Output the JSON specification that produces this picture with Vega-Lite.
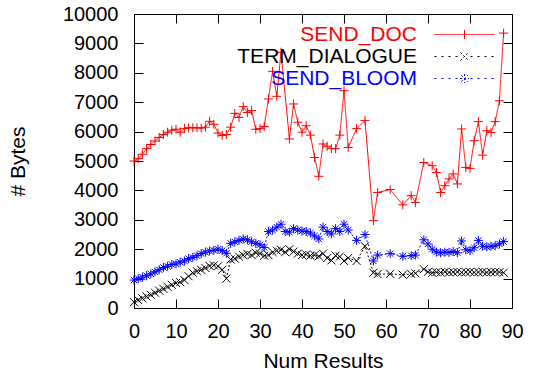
{
  "$schema": "https://vega.github.io/schema/vega-lite/v6.json",
  "width": 378,
  "height": 294,
  "autosize": "none",
  "padding": {"left": 134, "top": 14, "right": 22, "bottom": 69},
  "config": {
    "font": "Liberation Sans",
    "view": {"stroke": "black", "strokeWidth": 1},
    "axis": {
      "grid": false,
      "domainColor": "black",
      "tickColor": "black",
      "labelColor": "black",
      "titleColor": "black",
      "labelFontSize": 20,
      "titleFontSize": 21,
      "titleFontWeight": "normal",
      "tickSize": -9,
      "domainWidth": 1,
      "tickWidth": 1,
      "labelFlush": false
    }
  },
  "data": {
    "values": [
      {"x": 0, "y": 5000, "s": "SEND_DOC"},
      {"x": 1, "y": 5080, "s": "SEND_DOC"},
      {"x": 2, "y": 5230, "s": "SEND_DOC"},
      {"x": 3, "y": 5420, "s": "SEND_DOC"},
      {"x": 4, "y": 5560, "s": "SEND_DOC"},
      {"x": 5, "y": 5680, "s": "SEND_DOC"},
      {"x": 6, "y": 5800, "s": "SEND_DOC"},
      {"x": 7, "y": 5900, "s": "SEND_DOC"},
      {"x": 8, "y": 5980, "s": "SEND_DOC"},
      {"x": 9, "y": 6050, "s": "SEND_DOC"},
      {"x": 10, "y": 6080, "s": "SEND_DOC"},
      {"x": 11, "y": 5980, "s": "SEND_DOC"},
      {"x": 12, "y": 6110, "s": "SEND_DOC"},
      {"x": 13, "y": 6130, "s": "SEND_DOC"},
      {"x": 14, "y": 6130, "s": "SEND_DOC"},
      {"x": 15, "y": 6130, "s": "SEND_DOC"},
      {"x": 16, "y": 6120, "s": "SEND_DOC"},
      {"x": 17, "y": 6150, "s": "SEND_DOC"},
      {"x": 18, "y": 6350, "s": "SEND_DOC"},
      {"x": 19, "y": 6250, "s": "SEND_DOC"},
      {"x": 20, "y": 5950, "s": "SEND_DOC"},
      {"x": 21, "y": 5870, "s": "SEND_DOC"},
      {"x": 22, "y": 5900, "s": "SEND_DOC"},
      {"x": 23, "y": 6150, "s": "SEND_DOC"},
      {"x": 24, "y": 6620, "s": "SEND_DOC"},
      {"x": 25, "y": 6480, "s": "SEND_DOC"},
      {"x": 26, "y": 6850, "s": "SEND_DOC"},
      {"x": 27, "y": 6650, "s": "SEND_DOC"},
      {"x": 28, "y": 6720, "s": "SEND_DOC"},
      {"x": 29, "y": 6080, "s": "SEND_DOC"},
      {"x": 30, "y": 6100, "s": "SEND_DOC"},
      {"x": 31, "y": 6170, "s": "SEND_DOC"},
      {"x": 32, "y": 7110, "s": "SEND_DOC"},
      {"x": 33, "y": 8050, "s": "SEND_DOC"},
      {"x": 34, "y": 7200, "s": "SEND_DOC"},
      {"x": 35, "y": 8700, "s": "SEND_DOC"},
      {"x": 37, "y": 5750, "s": "SEND_DOC"},
      {"x": 38, "y": 6940, "s": "SEND_DOC"},
      {"x": 39, "y": 6320, "s": "SEND_DOC"},
      {"x": 40, "y": 5980, "s": "SEND_DOC"},
      {"x": 41, "y": 6200, "s": "SEND_DOC"},
      {"x": 42, "y": 5880, "s": "SEND_DOC"},
      {"x": 43, "y": 5120, "s": "SEND_DOC"},
      {"x": 44, "y": 4480, "s": "SEND_DOC"},
      {"x": 45, "y": 5580, "s": "SEND_DOC"},
      {"x": 46, "y": 5500, "s": "SEND_DOC"},
      {"x": 47, "y": 5420, "s": "SEND_DOC"},
      {"x": 48, "y": 5420, "s": "SEND_DOC"},
      {"x": 49, "y": 5880, "s": "SEND_DOC"},
      {"x": 50, "y": 7390, "s": "SEND_DOC"},
      {"x": 51, "y": 5460, "s": "SEND_DOC"},
      {"x": 53, "y": 6100, "s": "SEND_DOC"},
      {"x": 55, "y": 6380, "s": "SEND_DOC"},
      {"x": 57, "y": 2970, "s": "SEND_DOC"},
      {"x": 58, "y": 3930, "s": "SEND_DOC"},
      {"x": 61, "y": 4030, "s": "SEND_DOC"},
      {"x": 64, "y": 3510, "s": "SEND_DOC"},
      {"x": 66, "y": 3820, "s": "SEND_DOC"},
      {"x": 67, "y": 3590, "s": "SEND_DOC"},
      {"x": 69, "y": 4950, "s": "SEND_DOC"},
      {"x": 71, "y": 4840, "s": "SEND_DOC"},
      {"x": 72, "y": 4610, "s": "SEND_DOC"},
      {"x": 73, "y": 3930, "s": "SEND_DOC"},
      {"x": 74, "y": 4160, "s": "SEND_DOC"},
      {"x": 75, "y": 4390, "s": "SEND_DOC"},
      {"x": 76, "y": 4560, "s": "SEND_DOC"},
      {"x": 77, "y": 4220, "s": "SEND_DOC"},
      {"x": 78, "y": 6090, "s": "SEND_DOC"},
      {"x": 79, "y": 4780, "s": "SEND_DOC"},
      {"x": 80, "y": 4750, "s": "SEND_DOC"},
      {"x": 81, "y": 5690, "s": "SEND_DOC"},
      {"x": 82, "y": 6340, "s": "SEND_DOC"},
      {"x": 83, "y": 5200, "s": "SEND_DOC"},
      {"x": 84, "y": 6030, "s": "SEND_DOC"},
      {"x": 85, "y": 5970, "s": "SEND_DOC"},
      {"x": 86, "y": 6340, "s": "SEND_DOC"},
      {"x": 87, "y": 7050, "s": "SEND_DOC"},
      {"x": 88, "y": 9350, "s": "SEND_DOC"},

      {"x": 0, "y": 200, "s": "TERM_DIALOGUE"},
      {"x": 1, "y": 270, "s": "TERM_DIALOGUE"},
      {"x": 2, "y": 330, "s": "TERM_DIALOGUE"},
      {"x": 3, "y": 390, "s": "TERM_DIALOGUE"},
      {"x": 4, "y": 450, "s": "TERM_DIALOGUE"},
      {"x": 5, "y": 520, "s": "TERM_DIALOGUE"},
      {"x": 6, "y": 590, "s": "TERM_DIALOGUE"},
      {"x": 7, "y": 650, "s": "TERM_DIALOGUE"},
      {"x": 8, "y": 720, "s": "TERM_DIALOGUE"},
      {"x": 9, "y": 790, "s": "TERM_DIALOGUE"},
      {"x": 10, "y": 850, "s": "TERM_DIALOGUE"},
      {"x": 11, "y": 880, "s": "TERM_DIALOGUE"},
      {"x": 12, "y": 950, "s": "TERM_DIALOGUE"},
      {"x": 13, "y": 1080, "s": "TERM_DIALOGUE"},
      {"x": 14, "y": 1200, "s": "TERM_DIALOGUE"},
      {"x": 15, "y": 1250, "s": "TERM_DIALOGUE"},
      {"x": 16, "y": 1300, "s": "TERM_DIALOGUE"},
      {"x": 17, "y": 1360, "s": "TERM_DIALOGUE"},
      {"x": 18, "y": 1430, "s": "TERM_DIALOGUE"},
      {"x": 19, "y": 1450, "s": "TERM_DIALOGUE"},
      {"x": 20, "y": 1420, "s": "TERM_DIALOGUE"},
      {"x": 21, "y": 1300, "s": "TERM_DIALOGUE"},
      {"x": 22, "y": 1000, "s": "TERM_DIALOGUE"},
      {"x": 23, "y": 1650, "s": "TERM_DIALOGUE"},
      {"x": 24, "y": 1680, "s": "TERM_DIALOGUE"},
      {"x": 25, "y": 1750, "s": "TERM_DIALOGUE"},
      {"x": 26, "y": 1800, "s": "TERM_DIALOGUE"},
      {"x": 27, "y": 1840, "s": "TERM_DIALOGUE"},
      {"x": 28, "y": 1800, "s": "TERM_DIALOGUE"},
      {"x": 29, "y": 1880, "s": "TERM_DIALOGUE"},
      {"x": 30, "y": 1850, "s": "TERM_DIALOGUE"},
      {"x": 31, "y": 1780, "s": "TERM_DIALOGUE"},
      {"x": 32, "y": 1800, "s": "TERM_DIALOGUE"},
      {"x": 33, "y": 1900, "s": "TERM_DIALOGUE"},
      {"x": 34, "y": 1950, "s": "TERM_DIALOGUE"},
      {"x": 35, "y": 1980, "s": "TERM_DIALOGUE"},
      {"x": 36, "y": 1900, "s": "TERM_DIALOGUE"},
      {"x": 37, "y": 2000, "s": "TERM_DIALOGUE"},
      {"x": 38, "y": 1920, "s": "TERM_DIALOGUE"},
      {"x": 39, "y": 1850, "s": "TERM_DIALOGUE"},
      {"x": 40, "y": 1800, "s": "TERM_DIALOGUE"},
      {"x": 41, "y": 1820, "s": "TERM_DIALOGUE"},
      {"x": 42, "y": 1780, "s": "TERM_DIALOGUE"},
      {"x": 43, "y": 1800, "s": "TERM_DIALOGUE"},
      {"x": 44, "y": 1760, "s": "TERM_DIALOGUE"},
      {"x": 45, "y": 1850, "s": "TERM_DIALOGUE"},
      {"x": 46, "y": 1700, "s": "TERM_DIALOGUE"},
      {"x": 47, "y": 1620, "s": "TERM_DIALOGUE"},
      {"x": 48, "y": 1780, "s": "TERM_DIALOGUE"},
      {"x": 49, "y": 1750, "s": "TERM_DIALOGUE"},
      {"x": 50, "y": 1600, "s": "TERM_DIALOGUE"},
      {"x": 51, "y": 1700, "s": "TERM_DIALOGUE"},
      {"x": 53, "y": 1600, "s": "TERM_DIALOGUE"},
      {"x": 55, "y": 2100, "s": "TERM_DIALOGUE"},
      {"x": 57, "y": 1200, "s": "TERM_DIALOGUE"},
      {"x": 58, "y": 1150, "s": "TERM_DIALOGUE"},
      {"x": 61, "y": 1160, "s": "TERM_DIALOGUE"},
      {"x": 64, "y": 1130, "s": "TERM_DIALOGUE"},
      {"x": 66, "y": 1160, "s": "TERM_DIALOGUE"},
      {"x": 67, "y": 1180, "s": "TERM_DIALOGUE"},
      {"x": 69, "y": 1320, "s": "TERM_DIALOGUE"},
      {"x": 70, "y": 1230, "s": "TERM_DIALOGUE"},
      {"x": 71, "y": 1200, "s": "TERM_DIALOGUE"},
      {"x": 72, "y": 1220, "s": "TERM_DIALOGUE"},
      {"x": 73, "y": 1210, "s": "TERM_DIALOGUE"},
      {"x": 74, "y": 1230, "s": "TERM_DIALOGUE"},
      {"x": 75, "y": 1210, "s": "TERM_DIALOGUE"},
      {"x": 76, "y": 1220, "s": "TERM_DIALOGUE"},
      {"x": 77, "y": 1230, "s": "TERM_DIALOGUE"},
      {"x": 78, "y": 1210, "s": "TERM_DIALOGUE"},
      {"x": 79, "y": 1220, "s": "TERM_DIALOGUE"},
      {"x": 80, "y": 1230, "s": "TERM_DIALOGUE"},
      {"x": 81, "y": 1210, "s": "TERM_DIALOGUE"},
      {"x": 82, "y": 1220, "s": "TERM_DIALOGUE"},
      {"x": 83, "y": 1230, "s": "TERM_DIALOGUE"},
      {"x": 84, "y": 1210, "s": "TERM_DIALOGUE"},
      {"x": 85, "y": 1220, "s": "TERM_DIALOGUE"},
      {"x": 86, "y": 1230, "s": "TERM_DIALOGUE"},
      {"x": 87, "y": 1220, "s": "TERM_DIALOGUE"},
      {"x": 88, "y": 1200, "s": "TERM_DIALOGUE"},

      {"x": 0, "y": 950, "s": "SEND_BLOOM"},
      {"x": 1, "y": 1000, "s": "SEND_BLOOM"},
      {"x": 2, "y": 1050, "s": "SEND_BLOOM"},
      {"x": 3, "y": 1100, "s": "SEND_BLOOM"},
      {"x": 4, "y": 1160, "s": "SEND_BLOOM"},
      {"x": 5, "y": 1230, "s": "SEND_BLOOM"},
      {"x": 6, "y": 1300, "s": "SEND_BLOOM"},
      {"x": 7, "y": 1380, "s": "SEND_BLOOM"},
      {"x": 8, "y": 1420, "s": "SEND_BLOOM"},
      {"x": 9, "y": 1480, "s": "SEND_BLOOM"},
      {"x": 10, "y": 1500, "s": "SEND_BLOOM"},
      {"x": 11, "y": 1560, "s": "SEND_BLOOM"},
      {"x": 12, "y": 1600, "s": "SEND_BLOOM"},
      {"x": 13, "y": 1680, "s": "SEND_BLOOM"},
      {"x": 14, "y": 1720, "s": "SEND_BLOOM"},
      {"x": 15, "y": 1780, "s": "SEND_BLOOM"},
      {"x": 16, "y": 1850, "s": "SEND_BLOOM"},
      {"x": 17, "y": 1900, "s": "SEND_BLOOM"},
      {"x": 18, "y": 1940, "s": "SEND_BLOOM"},
      {"x": 19, "y": 1960, "s": "SEND_BLOOM"},
      {"x": 20, "y": 2000, "s": "SEND_BLOOM"},
      {"x": 21, "y": 1950, "s": "SEND_BLOOM"},
      {"x": 22, "y": 1860, "s": "SEND_BLOOM"},
      {"x": 23, "y": 2200, "s": "SEND_BLOOM"},
      {"x": 24, "y": 2250, "s": "SEND_BLOOM"},
      {"x": 25, "y": 2300, "s": "SEND_BLOOM"},
      {"x": 26, "y": 2350, "s": "SEND_BLOOM"},
      {"x": 27, "y": 2320, "s": "SEND_BLOOM"},
      {"x": 28, "y": 2250, "s": "SEND_BLOOM"},
      {"x": 29, "y": 2200, "s": "SEND_BLOOM"},
      {"x": 30, "y": 2150, "s": "SEND_BLOOM"},
      {"x": 31, "y": 2060, "s": "SEND_BLOOM"},
      {"x": 32, "y": 2600, "s": "SEND_BLOOM"},
      {"x": 33, "y": 2650, "s": "SEND_BLOOM"},
      {"x": 34, "y": 2750, "s": "SEND_BLOOM"},
      {"x": 35, "y": 2850, "s": "SEND_BLOOM"},
      {"x": 36, "y": 2600, "s": "SEND_BLOOM"},
      {"x": 37, "y": 2580, "s": "SEND_BLOOM"},
      {"x": 38, "y": 2700, "s": "SEND_BLOOM"},
      {"x": 39, "y": 2650, "s": "SEND_BLOOM"},
      {"x": 40, "y": 2620, "s": "SEND_BLOOM"},
      {"x": 41, "y": 2600, "s": "SEND_BLOOM"},
      {"x": 42, "y": 2550, "s": "SEND_BLOOM"},
      {"x": 43, "y": 2450, "s": "SEND_BLOOM"},
      {"x": 44, "y": 2350, "s": "SEND_BLOOM"},
      {"x": 45, "y": 2750, "s": "SEND_BLOOM"},
      {"x": 46, "y": 2600, "s": "SEND_BLOOM"},
      {"x": 47, "y": 2520, "s": "SEND_BLOOM"},
      {"x": 48, "y": 2700, "s": "SEND_BLOOM"},
      {"x": 49, "y": 2600, "s": "SEND_BLOOM"},
      {"x": 50, "y": 2850, "s": "SEND_BLOOM"},
      {"x": 51, "y": 2650, "s": "SEND_BLOOM"},
      {"x": 53, "y": 2300, "s": "SEND_BLOOM"},
      {"x": 55, "y": 2500, "s": "SEND_BLOOM"},
      {"x": 57, "y": 1600, "s": "SEND_BLOOM"},
      {"x": 58, "y": 1800, "s": "SEND_BLOOM"},
      {"x": 61, "y": 1850, "s": "SEND_BLOOM"},
      {"x": 64, "y": 1760, "s": "SEND_BLOOM"},
      {"x": 66, "y": 1780, "s": "SEND_BLOOM"},
      {"x": 67, "y": 1800, "s": "SEND_BLOOM"},
      {"x": 69, "y": 2320, "s": "SEND_BLOOM"},
      {"x": 70, "y": 2180, "s": "SEND_BLOOM"},
      {"x": 71, "y": 2000, "s": "SEND_BLOOM"},
      {"x": 72, "y": 1900, "s": "SEND_BLOOM"},
      {"x": 73, "y": 1880, "s": "SEND_BLOOM"},
      {"x": 74, "y": 1900, "s": "SEND_BLOOM"},
      {"x": 75, "y": 1890, "s": "SEND_BLOOM"},
      {"x": 76, "y": 1920, "s": "SEND_BLOOM"},
      {"x": 77, "y": 1880, "s": "SEND_BLOOM"},
      {"x": 78, "y": 2280, "s": "SEND_BLOOM"},
      {"x": 79, "y": 1980, "s": "SEND_BLOOM"},
      {"x": 80, "y": 1950, "s": "SEND_BLOOM"},
      {"x": 81, "y": 2050, "s": "SEND_BLOOM"},
      {"x": 82, "y": 2300, "s": "SEND_BLOOM"},
      {"x": 83, "y": 2100, "s": "SEND_BLOOM"},
      {"x": 84, "y": 2080, "s": "SEND_BLOOM"},
      {"x": 85, "y": 2100, "s": "SEND_BLOOM"},
      {"x": 86, "y": 2120, "s": "SEND_BLOOM"},
      {"x": 87, "y": 2180, "s": "SEND_BLOOM"},
      {"x": 88, "y": 2260, "s": "SEND_BLOOM"}
    ]
  },
  "layer": [
    {
      "mark": {"type": "line", "strokeWidth": 1},
      "encoding": {
        "x": {
          "field": "x", "type": "quantitative",
          "scale": {"domain": [0, 90], "nice": false, "zero": false},
          "axis": {"values": [0, 10, 20, 30, 40, 50, 60, 70, 80, 90], "title": "Num Results", "labelPadding": 22, "titlePadding": 9}
        },
        "y": {
          "field": "y", "type": "quantitative",
          "scale": {"domain": [0, 10000], "nice": false, "zero": false},
          "axis": {"values": [0, 1000, 2000, 3000, 4000, 5000, 6000, 7000, 8000, 9000, 10000], "format": "d", "title": "# Bytes", "labelPadding": 25, "titlePadding": 34}
        },
        "color": {
          "field": "s", "type": "nominal",
          "scale": {"domain": ["SEND_DOC", "TERM_DIALOGUE", "SEND_BLOOM"], "range": ["#ff0000", "#000000", "#0000ff"]},
          "legend": {
            "orient": "none",
            "legendX": 320,
            "legendY": 10,
            "title": null,
            "padding": 0,
            "labelFontSize": 21,
            "labelFont": "Liberation Sans",
            "labelAlign": "right",
            "labelOffset": -58,
            "labelLimit": 0,
            "symbolSize": 100,
            "symbolStrokeWidth": 1,
            "rowPadding": 0,
            "encode": {
              "symbols": {
                "update": {
                  "shape": {"signal": "datum.value === 'SEND_DOC' ? 'M-6,0H6M0,-0.9V0.9' : datum.value === 'TERM_DIALOGUE' ? 'M-6,0H-5.4M-4.6,0H-4M-3.2,0H-2.6M-1.8,0H-1.2M1.2,0H1.8M2.6,0H3.2M4,0H4.6M5.4,0H6M-0.8,-0.8L0.8,0.8M-0.8,0.8L0.8,-0.8' : 'M-6,0H-5.4M-4.6,0H-4M-3.2,0H-2.6M-1.8,0H-1.2M1.2,0H1.8M2.6,0H3.2M4,0H4.6M5.4,0H6M-0.9,0H0.9M0,-0.9V0.9M-0.63,-0.63L0.63,0.63M-0.63,0.63L0.63,-0.63'"},
                  "stroke": {"scale": "color", "field": "value"},
                  "fill": {"value": "transparent"},
                  "strokeWidth": {"value": 1},
                  "strokeDash": {"value": []},
                  "opacity": {"value": 1}
                }
              },
              "labels": {
                "update": {"fill": {"scale": "color", "field": "value"}}
              }
            }
          }
        },
        "strokeDash": {
          "field": "s", "type": "nominal",
          "scale": {"domain": ["SEND_DOC", "TERM_DIALOGUE", "SEND_BLOOM"], "range": [[1, 0], [2, 2], [2, 2]]},
          "legend": null
        }
      }
    },
    {
      "encoding": {
        "x": {
          "field": "x", "type": "quantitative",
          "scale": {"domain": [0, 90], "nice": false, "zero": false},
          "axis": {"orient": "top", "values": [0, 10, 20, 30, 40, 50, 60, 70, 80, 90], "labels": false, "title": null}
        },
        "y": {
          "field": "y", "type": "quantitative",
          "scale": {"domain": [0, 10000], "nice": false, "zero": false},
          "axis": {"orient": "right", "values": [0, 1000, 2000, 3000, 4000, 5000, 6000, 7000, 8000, 9000, 10000], "labels": false, "title": null}
        }
      },
      "layer": [
        {
          "transform": [{"filter": "datum.s === 'SEND_DOC'"}],
          "mark": {"type": "point", "filled": false, "strokeWidth": 1, "opacity": 1, "color": "#ff0000", "shape": "M-1,0H1M0,-1V1", "size": 81}
        },
        {
          "transform": [{"filter": "datum.s === 'TERM_DIALOGUE'"}],
          "mark": {"type": "point", "filled": false, "strokeWidth": 1, "opacity": 1, "color": "#000000", "shape": "M-1,-1L1,1M-1,1L1,-1", "size": 64}
        },
        {
          "transform": [{"filter": "datum.s === 'SEND_BLOOM'"}],
          "mark": {"type": "point", "filled": false, "strokeWidth": 1, "opacity": 1, "color": "#0000ff", "shape": "M-1,0H1M0,-1V1M-0.7,-0.7L0.7,0.7M-0.7,0.7L0.7,-0.7", "size": 81}
        }
      ]
    }
  ],
  "resolve": {"scale": {"x": "independent", "y": "independent"}, "axis": {"x": "independent", "y": "independent"}}
}
